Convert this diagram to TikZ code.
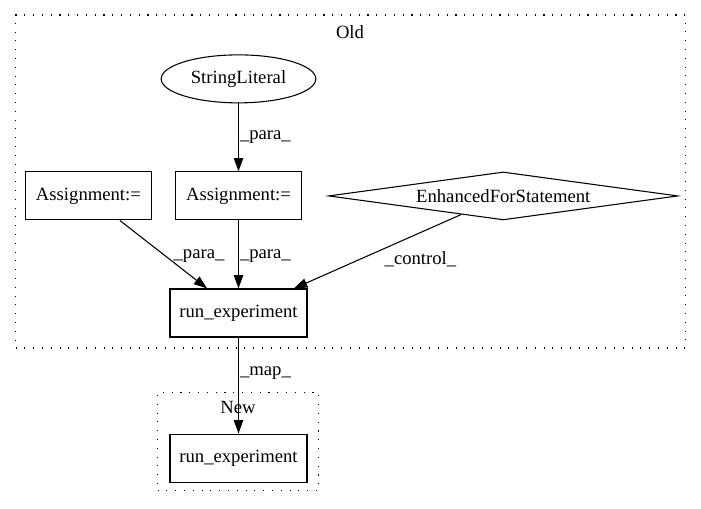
\documentclass[tikz,border=0pt]{standalone}
\usepackage{fontspec}
\setmainfont{Liberation Serif}
\usetikzlibrary{
  shapes.geometric,
  arrows.meta,
  positioning,
}
\tikzset{
  stmt/.style={
    rectangle,
    minimum width=94.5pt,
    minimum height=36pt,
    text centered,
    draw=black,
    line width=0.8pt,
  },
  callbox/.style={
    stmt,
    minimum width=102.75pt,
  },
  literal/.style={
    ellipse,
    minimum width=116pt,
    minimum height=36pt,
    inner sep=0pt,
    draw=black,
    line width=0.8pt,
  },
  forloop/.style={
    diamond,
    aspect=7.3,
    inner sep=0pt,
    minimum width=262pt,
    minimum height=36pt,
    draw=black,
    line width=0.8pt,
  },
  cluster/.style={
    rectangle,
    draw=black,
    line width=0.8pt,
    dash pattern=on 0.8pt off 5.8pt,
  },
  arrow/.style={
    -{Triangle[length=10pt, width=7pt]},
    line width=0.8pt,
  },
  elabel/.style={
    inner sep=0.75pt,
  },
}

\begin{document}
\begin{tikzpicture}[
    x=0.75pt, y=-0.75pt,
    font=\fontsize{14}{16}\selectfont,
    node distance=51pt and 18pt,
  ]
  \useasboundingbox (0,0) rectangle (701,508);

  % Clusters
  \node (old) [cluster, minimum width=502.5pt, minimum height=249.75pt] at (350.5,181.5) {};
  \node (oldlabel) at (350,32) {Old};
  \node (new) [cluster, minimum width=120.75pt, minimum height=73.5pt] at (238,441.5) {};
  \node (newlabel) at (238,407) {New};

  % Statements
  \node (run) [callbox] at (238.5,313) {run\_experiment};
  \node (asg2) [stmt, above=of run] {Assignment:=};
  \node (strlit) [literal, above=of asg2] {StringLiteral};
  \node (asg1) [stmt, left=17.25pt of asg2] {Assignment:=};
  \node (efs) [forloop, right=19.5pt of asg2] {EnhancedForStatement};
  \node (run2) [callbox, below=72pt of run] {run\_experiment};

  % Arrows
  \draw [arrow] (strlit) -- node [elabel, right] {\_para\_} (asg2);
  \draw [arrow] (asg1) -- node [elabel, pos=0.53, right=4.5pt] {\_para\_} (run);
  \draw [arrow] (asg2) -- node [elabel, pos=0.53, right] {\_para\_} (run);
  \draw [arrow] (efs) -- node [elabel, pos=0.61, right=18pt] {\_control\_} (run);
  \draw [arrow] (run) -- node [elabel, pos=0.37, right] {\_map\_} (run2);

\end{tikzpicture}
\end{document}
